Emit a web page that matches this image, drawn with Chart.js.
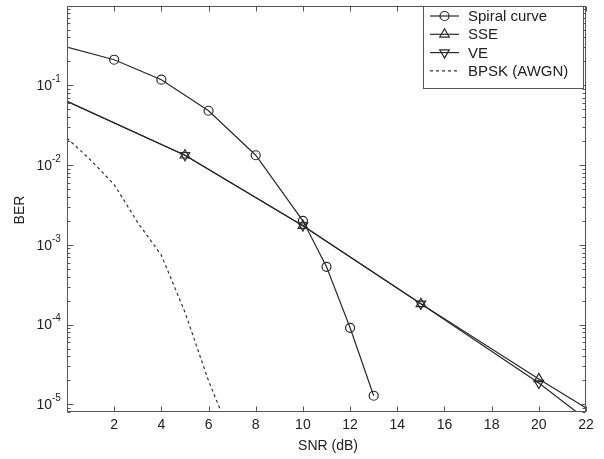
<!DOCTYPE html>
<html>
<head>
<meta charset="utf-8">
<script src="https://cdn.jsdelivr.net/npm/chart.js@4/dist/chart.umd.min.js"></script>
<style>
  html, body { margin: 0; padding: 0; background: #fff; }
  #myChart { display: block; }
</style>
</head>
<body>
<canvas id="myChart" width="604" height="459"></canvas>
<script>
// values
const snrSpiral = [0, 2, 4, 6, 8, 10, 11, 12, 13];
const berSpiral = [0.303, 0.21, 0.118, 0.0481, 0.0133, 0.002, 5.3e-4, 9.1e-5, 1.28e-5];

const snrSubspace = [0, 5, 10, 15, 20, 22];
const berSse = [0.0633, 0.0133, 0.00174, 1.82e-4, 2.08e-5, 9.0e-6];
const berVe = [0.0633, 0.0133, 0.00174, 1.82e-4, 1.85e-5, 6.5e-6];

const snrBpsk = [0, 1, 2, 3, 4, 5, 6, 6.5];
const berBpsk = [0.0218, 0.0116, 0.0057, 0.0019, 7.4e-4, 1.43e-4, 1.97e-5, 8.5e-6];

const xTicks = [2, 4, 6, 8, 10, 12, 14, 16, 18, 20, 22];
const yDecades = [-1, -2, -3, -4, -5];
const seriesNames = ['Spiral curve', 'SSE', 'VE', 'BPSK (AWGN)'];

const lineColor = '#2a2a2a';
const axisColor = '#555';
const textColor = '#222';
const font = '"Liberation Sans", Arial, sans-serif';

function pts(xs, ys) {
	return xs.map((x, i) => ({ x: x, y: ys[i] }));
}

// pas de marqueur aux extremites
const spiralRadius = snrSpiral.map((x, i) => (i == 0 ? 0 : 4.5));
const subRadius = snrSubspace.map((x, i) => (i == 0 || i == snrSubspace.length - 1 ? 0 : 5.5));

function drawMarker(ctx, style, x, y, r) {
	ctx.beginPath();
	if (style == 'circle') {
		ctx.arc(x, y, r, 0, Math.PI * 2);
	} else if (style == 'up' || style == 'down') {
		const s = style == 'up' ? 1 : -1;
		for (let k = 0; k < 3; k++) {
			const a = (k * 2 * Math.PI) / 3;
			const px = x + Math.sin(a) * r;
			const py = y - s * Math.cos(a) * r;
			if (k == 0) ctx.moveTo(px, py);
			else ctx.lineTo(px, py);
		}
		ctx.closePath();
	}
	ctx.stroke();
}

const matlabAxes = {
	id: 'matlabAxes',
	afterDraw(chart) {
		const ctx = chart.ctx;
		const a = chart.chartArea;
		const xs = chart.scales.x;
		const ys = chart.scales.y;
		const L = Math.round(a.left) + 0.5;
		const R = Math.round(a.right) - 0.5;
		const T = Math.round(a.top) + 0.5;
		const B = Math.round(a.bottom) - 0.5;
		ctx.save();
		ctx.strokeStyle = axisColor;
		ctx.lineWidth = 1;
		ctx.strokeRect(L, T, R - L, B - T);

		// x ticks, top and bottom, pointing in
		ctx.beginPath();
		xTicks.forEach((v) => {
			const px = Math.round(xs.getPixelForValue(v)) + 0.5;
			ctx.moveTo(px, B);
			ctx.lineTo(px, B - 5);
			ctx.moveTo(px, T);
			ctx.lineTo(px, T + 5);
		});
		// y ticks, log decades + minor
		for (let d = -6; d <= 0; d++) {
			for (let m = 1; m <= 9; m++) {
				const v = m * Math.pow(10, d);
				if (v < ys.min || v > ys.max) continue;
				const py = Math.round(ys.getPixelForValue(v)) + 0.5;
				const len = m == 1 ? 6 : 3;
				ctx.moveTo(L, py);
				ctx.lineTo(L + len, py);
				ctx.moveTo(R, py);
				ctx.lineTo(R - len, py);
			}
		}
		ctx.stroke();

		// tick labels
		ctx.fillStyle = textColor;
		ctx.font = '14px ' + font;
		ctx.textAlign = 'center';
		ctx.textBaseline = 'middle';
		xTicks.forEach((v) => {
			ctx.fillText(String(v), xs.getPixelForValue(v), 425);
		});
		yDecades.forEach((d) => {
			const py = ys.getPixelForValue(Math.pow(10, d));
			ctx.font = '14px ' + font;
			ctx.textAlign = 'right';
			ctx.textBaseline = 'middle';
			ctx.fillText('10', 52, py + 1);
			ctx.font = '10px ' + font;
			ctx.textAlign = 'left';
			ctx.fillText(String(d), 52, py - 6);
		});

		// axis titles
		ctx.font = '14px ' + font;
		ctx.textAlign = 'center';
		ctx.textBaseline = 'middle';
		ctx.fillText('SNR (dB)', 328, 446);
		ctx.save();
		ctx.translate(20, 210);
		ctx.rotate(-Math.PI / 2);
		ctx.fillText('BER', 0, 0);
		ctx.restore();

		// legend box
		const lx = 423.5, ly = T, lw = R - 2 - lx, lh = 82;
		ctx.fillStyle = '#fff';
		ctx.fillRect(lx, ly, lw, lh);
		ctx.strokeStyle = axisColor;
		ctx.strokeRect(lx, ly, lw, lh);
		const markers = ['circle', 'up', 'down', null];
		chart.data.datasets.forEach((ds, i) => {
			const ry = 16 + i * 18.3;
			ctx.strokeStyle = ds.borderColor;
			ctx.lineWidth = ds.borderWidth;
			ctx.setLineDash(ds.borderDash || []);
			ctx.beginPath();
			ctx.moveTo(430, ry);
			ctx.lineTo(459, ry);
			ctx.stroke();
			ctx.setLineDash([]);
			if (markers[i]) drawMarker(ctx, markers[i], 444.5, ry, markers[i] == 'circle' ? 4.5 : 5.5);
			ctx.fillStyle = textColor;
			ctx.font = '15px ' + font;
			ctx.textAlign = 'left';
			ctx.textBaseline = 'middle';
			ctx.fillText(ds.label, 468, ry + 1);
		});
		ctx.restore();
	},
};

var chartArea = document.getElementById('myChart').getContext('2d');
var myChart = new Chart(chartArea, {
	type: 'line',
	data: {
		datasets: [
			{
				label: seriesNames[0],
				data: pts(snrSpiral, berSpiral),
				borderColor: lineColor,
				borderWidth: 1.2,
				pointStyle: 'circle',
				pointRadius: spiralRadius,
				pointBorderColor: lineColor,
				pointBackgroundColor: 'rgba(0,0,0,0)',
				pointBorderWidth: 1.2,
			},
			{
				label: seriesNames[1],
				data: pts(snrSubspace, berSse),
				borderColor: lineColor,
				borderWidth: 1.2,
				pointStyle: 'triangle',
				pointRadius: subRadius,
				pointBorderColor: lineColor,
				pointBackgroundColor: 'rgba(0,0,0,0)',
				pointBorderWidth: 1.2,
			},
			{
				label: seriesNames[2],
				data: pts(snrSubspace, berVe),
				borderColor: lineColor,
				borderWidth: 1.2,
				pointStyle: 'triangle',
				rotation: 180,
				pointRadius: subRadius,
				pointBorderColor: lineColor,
				pointBackgroundColor: 'rgba(0,0,0,0)',
				pointBorderWidth: 1.2,
			},
			{
				label: seriesNames[3],
				data: pts(snrBpsk, berBpsk),
				borderColor: '#333',
				borderWidth: 1.2,
				borderDash: [3, 3],
				pointRadius: 0,
			},
		],
	},
	options: {
		responsive: false,
		animation: false,
		devicePixelRatio: 1,
		layout: { padding: { left: 67, right: 18, top: 3, bottom: 47 } },
		scales: {
			x: { type: 'linear', min: 0, max: 22, display: false },
			y: { type: 'logarithmic', min: 8e-6, max: 1, display: false },
		},
		plugins: {
			legend: { display: false },
			tooltip: { enabled: false },
		},
	},
	plugins: [matlabAxes],
});
</script>
</body>
</html>
